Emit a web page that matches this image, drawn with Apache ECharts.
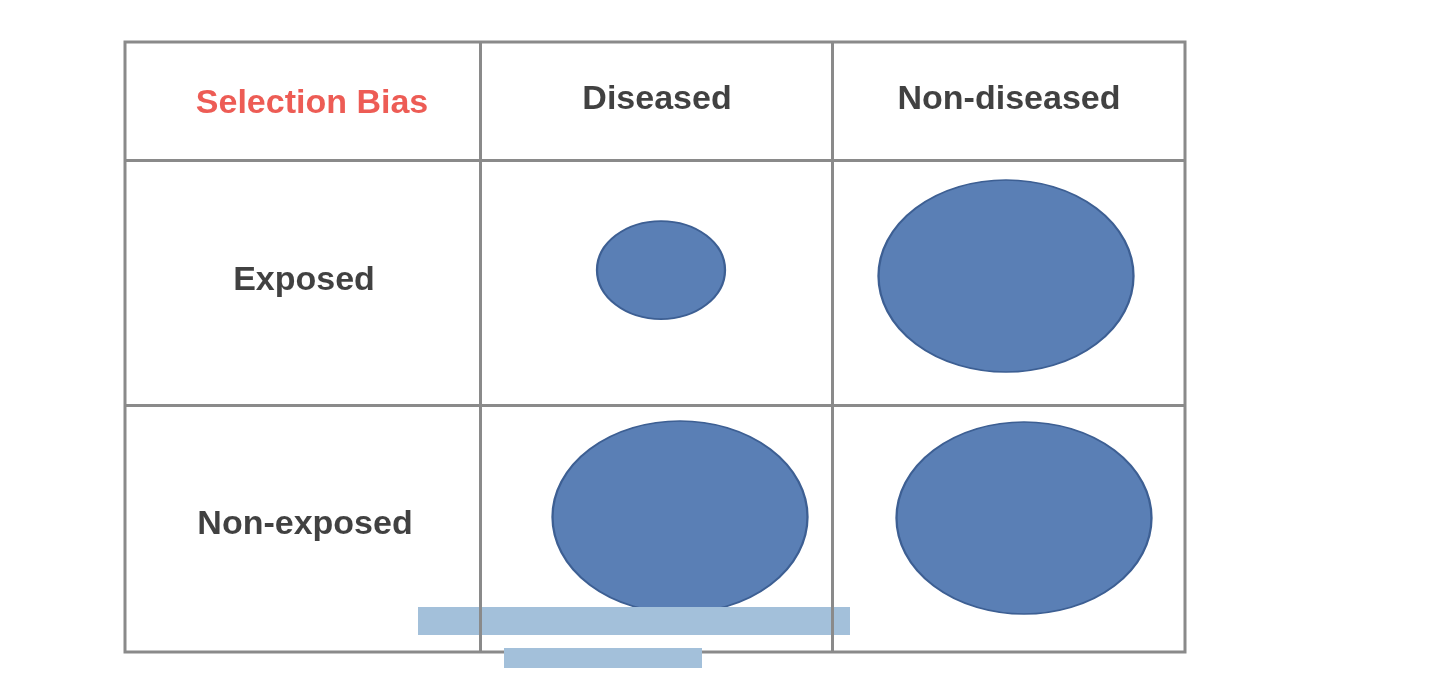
<!DOCTYPE html><html><head><meta charset="utf-8">
<script src="https://cdn.jsdelivr.net/npm/echarts@6/dist/echarts.min.js"></script>
<style>html,body{margin:0;background:#fff}#c{width:1440px;height:696px}</style></head>
<body><div id="c"></div><script>
const colBounds=[355,707];
const rowBounds=[118,363];
const headers=[["Selection Bias",187,62,"#e8332a"],["Diseased",532,58,"#111"],["Non-diseased",884,58,"#111"],["Exposed",179,239,"#111"],["Non-exposed",180,483,"#111"]];
const ellipses=[[536,228,128,98],[881,234,255,192],[555,475,255,192],[899,476,255,192]];
const bars=[[509,579,432,28],[478,616,198,20]];
const c=echarts.init(document.getElementById('c'));
const F='"Liberation Sans",Arial,sans-serif';
c.setOption({animation:false,
grid:{left:125,top:42,width:1060,height:610,show:true,borderColor:'#8a8a8a',borderWidth:3},
xAxis:{type:'value',min:0,max:1060,show:false},
yAxis:{type:'value',min:0,max:610,inverse:true,show:false},
series:[
{type:'scatter',symbolSize:0,data:[],silent:true,
 markLine:{symbol:'none',silent:true,label:{show:false},lineStyle:{color:'#8a8a8a',width:3,type:'solid'},
 data:[...colBounds.map(x=>[{coord:[x,0]},{coord:[x,610]}]),...rowBounds.map(y=>[{coord:[0,y]},{coord:[1060,y]}])]}},
{type:'scatter',symbol:'circle',z:3,data:ellipses.map(e=>({value:[e[0],e[1]],symbolSize:[e[2],e[3]]})),
 itemStyle:{color:'#5a7fb5',borderColor:'#3d5f93',borderWidth:2,opacity:1}},
{type:'scatter',symbol:'rect',z:4,clip:false,data:bars.map(b=>({value:[b[0],b[1]],symbolSize:[b[2],b[3]]})),
 itemStyle:{color:'#a3c0da',opacity:1}},
{type:'scatter',symbolSize:1,z:5,itemStyle:{color:'rgba(0,0,0,0)'},
 data:headers.map(h=>({value:[h[1],h[2]],label:{show:true,position:'inside',formatter:h[0],color:h[3],fontSize:34,fontWeight:'bold',fontFamily:F}}))}
]});
</script></body></html>
